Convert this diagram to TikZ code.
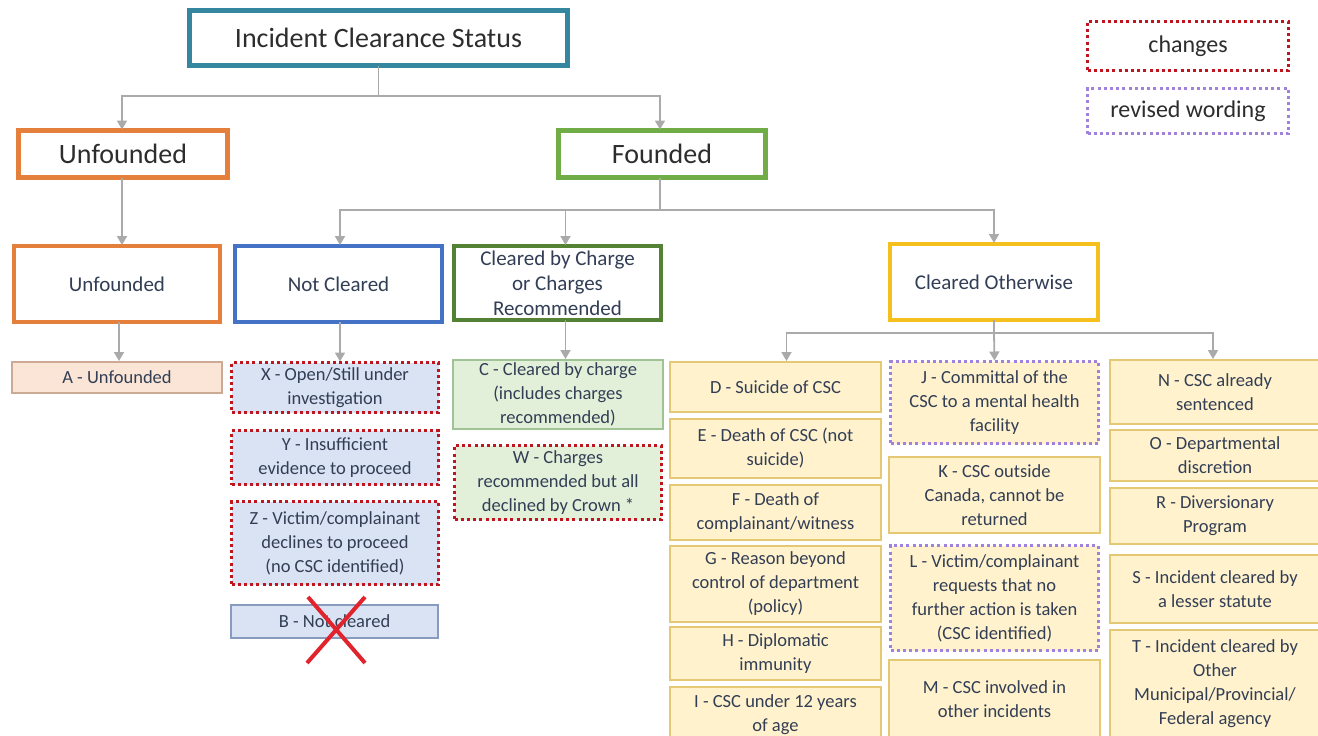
\documentclass[tikz,border=0pt]{standalone}
\usepackage{fontspec}
\setmainfont{Carlito}
\usetikzlibrary{arrows.meta}
\definecolor{cteal}{RGB}{52,135,158}
\definecolor{corange}{RGB}{228,128,60}
\definecolor{cgreen}{RGB}{112,173,71}
\definecolor{cdgreen}{RGB}{84,130,53}
\definecolor{cblue}{RGB}{68,114,196}
\definecolor{cgold}{RGB}{245,192,30}
\definecolor{cline}{RGB}{170,170,170}
\definecolor{cred}{RGB}{192,20,30}
\definecolor{cpurple}{RGB}{160,130,220}
\definecolor{txtdark}{RGB}{45,45,45}
\definecolor{txtleaf}{RGB}{50,62,85}
\definecolor{forange}{RGB}{251,229,214}
\definecolor{borange}{RGB}{205,170,150}
\definecolor{fblue}{RGB}{218,227,243}
\definecolor{bblue}{RGB}{135,155,190}
\definecolor{fgreen}{RGB}{226,240,217}
\definecolor{bgreen}{RGB}{160,195,150}
\definecolor{fyellow}{RGB}{255,242,204}
\definecolor{byellow}{RGB}{228,200,115}
\definecolor{cx}{RGB}{225,35,45}
\begin{document}
\begin{tikzpicture}[x=1pt,y=-1pt,
  box/.style={rectangle, align=center, inner sep=2pt, outer sep=0pt},
  lvlone/.style={box, draw, line width=5pt, fill=white, text=txtdark, font=\fontsize{28}{33}\selectfont},
  lvltwo/.style={box, draw, line width=4pt, fill=white, text=txtleaf, font=\fontsize{21}{25}\selectfont},
  leaf/.style={box, draw, line width=1.3pt, text=txtleaf, font=\fontsize{18.5}{24}\selectfont},
  lor/.style={leaf, fill=forange, draw=borange},
  lbl/.style={leaf, fill=fblue, draw=bblue},
  lgr/.style={leaf, fill=fgreen, draw=bgreen},
  lye/.style={leaf, fill=fyellow, draw=byellow},
  chg/.style={draw=cred, line width=3pt, dash pattern=on 3pt off 3.2pt},
  rev/.style={draw=cpurple, line width=3pt, dash pattern=on 3pt off 3.2pt},
  legend/.style={box, fill=white, text=txtdark, font=\fontsize{24}{28}\selectfont},
  conn/.style={draw=cline, line width=1.8pt},
  arr/.style={conn, -{Triangle[width=10pt,length=9pt]}, shorten >=1pt}
]
\useasboundingbox (0,0) rectangle (1318,736);
\fill[white] (0,0) rectangle (1318,736);
\clip (0,0) rectangle (1318,736);

% level 0 / 1
\node[lvlone, draw=cteal, minimum width=378, minimum height=55] (title) at (378.5,38) {Incident Clearance Status};
\node[lvlone, draw=corange, minimum width=209, minimum height=47] (unfa) at (123,154) {Unfounded};
\node[lvlone, draw=cgreen, minimum width=207, minimum height=47] (found) at (662,154) {Founded};

% legend
\node[legend, chg, minimum width=201, minimum height=49] (lgchg) at (1188,46) {changes};
\node[legend, rev, minimum width=201, minimum height=45] (lgrev) at (1188,111) {revised wording};

% level 2
\node[lvltwo, draw=corange, minimum width=206, minimum height=76] (unfb) at (117,284) {Unfounded};
\node[lvltwo, draw=cblue, minimum width=207, minimum height=76] (notcl) at (338.5,284) {Not Cleared};
\node[lvltwo, draw=cdgreen, minimum width=207, minimum height=74] (cbc) at (557.5,283) {Cleared by Charge\\or Charges\\Recommended};
\node[lvltwo, draw=cgold, minimum width=208, minimum height=76] (co) at (994,282) {Cleared Otherwise};

% leaves: unfounded / not cleared
\node[lor, minimum width=210, minimum height=31] (a) at (117,377.5) {A - Unfounded};
\node[lbl, chg, minimum width=207, minimum height=50] (x) at (335,387.5) {X - Open/Still under\\investigation};
\node[lbl, chg, minimum width=207, minimum height=54] (y) at (335,457.5) {Y - Insufficient\\evidence to proceed};
\node[lbl, chg, minimum width=207, minimum height=83] (z) at (335,543) {Z - Victim/complainant\\declines to proceed\\(no CSC identified)};
\node[lbl, minimum width=207, minimum height=33] (b) at (334.5,621.5) {B - Not cleared};

% leaves: cleared by charge
\node[lgr, minimum width=210, minimum height=69] (c) at (558,394.5) {C - Cleared by charge\\(includes charges\\recommended)};
\node[lgr, chg, minimum width=207, minimum height=74] (w) at (558,482.5) {W - Charges\\recommended but all\\declined by Crown *};

% leaves: cleared otherwise, column 1
\node[lye, minimum width=211, minimum height=50] (d) at (775.5,387) {D - Suicide of CSC};
\node[lye, minimum width=211, minimum height=59] (e) at (775.5,448.5) {E - Death of CSC (not\\suicide)};
\node[lye, minimum width=211, minimum height=55] (f) at (775.5,512.5) {F - Death of\\complainant/witness};
\node[lye, minimum width=211, minimum height=76] (g) at (775.5,584) {G - Reason beyond\\control of department\\(policy)};
\node[lye, minimum width=211, minimum height=53] (h) at (775.5,653.5) {H - Diplomatic\\immunity};
\node[lye, minimum width=211, minimum height=56] (i) at (775.5,715) {I - CSC under 12 years\\of age};

% column 2
\node[lye, rev, minimum width=208, minimum height=82] (j) at (994.5,402.5) {J - Committal of the\\CSC to a mental health\\facility};
\node[lye, minimum width=211, minimum height=76] (k) at (994.5,495) {K - CSC outside\\Canada, cannot be\\returned};
\node[lye, rev, minimum width=208, minimum height=105] (l) at (994.5,598) {L - Victim/complainant\\requests that no\\further action is taken\\(CSC identified)};
\node[lye, minimum width=211, minimum height=78] (m) at (994.5,699) {M - CSC involved in\\other incidents};

% column 3
\node[lye, minimum width=210, minimum height=64] (n) at (1215,392) {N - CSC already\\sentenced};
\node[lye, minimum width=210, minimum height=51] (o) at (1215,455.5) {O - Departmental\\discretion};
\node[lye, minimum width=210, minimum height=56] (r) at (1215,516) {R - Diversionary\\Program};
\node[lye, minimum width=210, minimum height=68] (s) at (1215,589) {S - Incident cleared by\\a lesser statute};
\node[lye, minimum width=210, minimum height=107] (t) at (1215,683.5) {T - Incident cleared by\\Other\\Municipal/Provincial/\\Federal agency};

% connectors
\draw[conn] (title.south) -- (title.south |- 0,96) coordinate (tb);
\draw[arr] (tb) -| ([xshift=-1pt]unfa.north);
\draw[arr] (tb) -| ([xshift=-2pt]found.north);

\draw[arr] ([xshift=-1pt]unfa.south) -- ([xshift=-1pt]unfa.south |- unfb.north);

\draw[conn] ([xshift=-2pt]found.south) -- ([xshift=-2pt]found.south |- 0,210) coordinate (fb);
\draw[arr] (fb) -| ([xshift=1.5pt]notcl.north);
\draw[arr] (fb) -| ([xshift=8pt]cbc.north);
\draw[arr] (fb) -| (co.north);

\draw[arr] ([xshift=2pt]unfb.south) -- ([xshift=2pt]unfb.south |- a.north);
\draw[arr] ([xshift=1.5pt]notcl.south) -- ([xshift=1.5pt]notcl.south |- x.north);
\draw[arr] ([xshift=8pt]cbc.south) -- ([xshift=8pt]cbc.south |- c.north);

\draw[conn] (co.south) -- (co.south |- 0,333) coordinate (cb);
\draw[arr] (cb) -| ([xshift=11pt]d.north);
\draw[arr] (cb) -- (j.north);
\draw[arr] (cb) -| ([xshift=-2pt]n.north);

% red cross over B
\draw[cx, line width=4pt] (308,597) -- (365,663);
\draw[cx, line width=4pt] (365,597) -- (307,663);
\end{tikzpicture}
\end{document}
